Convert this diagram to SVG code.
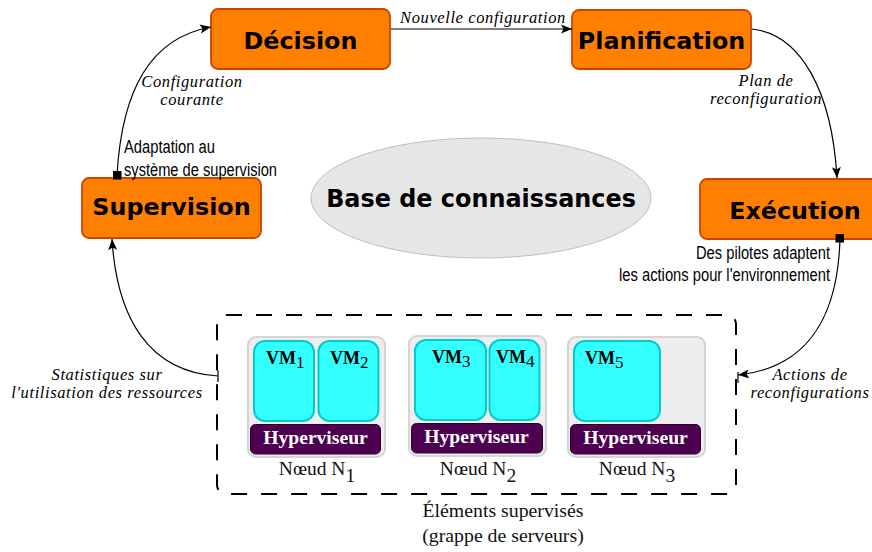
<svg xmlns="http://www.w3.org/2000/svg" width="872" height="552" viewBox="0 0 872 552">
<style>
.box{fill:#ff8000;stroke:#cc4400;stroke-width:1.8}
.bt{font:bold 23.8px "DejaVu Sans",sans-serif;fill:#000;text-anchor:middle}
.it{font:italic 16.5px "Liberation Serif",serif;fill:#000;text-anchor:middle;letter-spacing:.6px}
.sa{font:17.5px "Liberation Sans",sans-serif;fill:#000}
.node{fill:#eee;stroke:#d4d4d4;stroke-width:2}
.vm{fill:#33ffff;stroke:#00cccc;stroke-width:2}
.hy{fill:#4d0050;stroke:#2c002e;stroke-width:1}
.hyt{font:bold 19.6px "Liberation Serif",serif;fill:#fff;text-anchor:middle}
.vmt{font:bold 18px "Liberation Serif",serif;fill:#000}
.sub{font-weight:normal;font-size:17px}
.nt{font:19.5px "Liberation Serif",serif;fill:#111;text-anchor:middle}
.c{fill:none;stroke:#000;stroke-width:1.2}
</style>
<defs>
<marker id="a" markerWidth="12" markerHeight="10" refX="11" refY="5" orient="auto" markerUnits="userSpaceOnUse"><path d="M0 0.5L11 5L0 9.5L2.500 5Z" fill="#000"/></marker>
</defs>
<g id="cluster"><rect x="217" y="315" width="519" height="179" rx="9" fill="none" stroke="#000" stroke-width="2" stroke-dasharray="16 14"/></g>
<g id="decision"><rect class="box" x="211" y="9" width="179" height="60" rx="7"/><text class="bt" x="300.500" y="49">Décision</text></g>
<g id="planification"><rect class="box" x="572" y="10" width="179" height="59" rx="7"/><text class="bt" x="661.500" y="49">Planification</text></g>
<g id="supervision"><rect class="box" x="82" y="178" width="179" height="60" rx="7"/><text class="bt" x="171.500" y="214.500">Supervision</text></g>
<g id="execution"><rect class="box" x="700" y="179" width="179" height="60" rx="7"/><text class="bt" x="795" y="219">Exécution</text></g>
<g id="base"><ellipse cx="481" cy="198" rx="170" ry="60" fill="#e6e6e6" stroke="#bfbfbf" stroke-width="1"/><text x="481" y="207" font-family="DejaVu Sans,sans-serif" font-weight="bold" font-size="23.900" text-anchor="middle">Base de connaissances</text></g>
<g id="connectors">
<path class="c" marker-end="url(#a)" d="M117 175C122 90 150 38 211 27"/>
<path class="c" marker-end="url(#a)" d="M391 29L572 29"/>
<path class="c" marker-end="url(#a)" d="M752 29C800 34 832 90 837 178"/>
<path class="c" marker-end="url(#a)" d="M840 238C838 320 805 368 738 375"/>
<path class="c" marker-end="url(#a)" d="M218 376C150 372 117 320 112 239"/>
<path class="c" d="M218 370V382" stroke-width="1.400"/>
<path class="c" d="M738 372V383" stroke-width="1.600"/>
<rect x="113" y="171" width="8.500" height="8.500" fill="#000"/>
<rect x="835.500" y="234" width="8.500" height="8.500" fill="#000"/>
</g>
<g id="labels">
<text class="it" x="192" y="87">Configuration</text><text class="it" x="192" y="105">courante</text>
<text class="it" x="483" y="23">Nouvelle configuration</text>
<text class="it" x="766" y="86">Plan de</text><text class="it" x="766" y="104">reconfiguration</text>
<text class="it" x="107" y="380">Statistiques sur</text><text class="it" x="107" y="398">l'utilisation des ressources</text>
<text class="it" x="810" y="380">Actions de</text><text class="it" x="810" y="398">reconfigurations</text>
<text class="sa" x="124" y="153" textLength="91" lengthAdjust="spacingAndGlyphs">Adaptation au</text>
<text class="sa" x="124" y="176" textLength="153" lengthAdjust="spacingAndGlyphs">système de supervision</text>
<text class="sa" x="696" y="259" textLength="134" lengthAdjust="spacingAndGlyphs">Des pilotes adaptent</text>
<text class="sa" x="619" y="281" textLength="211" lengthAdjust="spacingAndGlyphs">les actions pour l'environnement</text>
<text x="503" y="517" font-family="Liberation Serif,serif" font-size="19.800" text-anchor="middle" fill="#111">Éléments supervisés</text>
<text x="503" y="542" font-family="Liberation Serif,serif" font-size="19.800" text-anchor="middle" fill="#111">(grappe de serveurs)</text>
</g>
<g id="noeud1">
<rect class="node" x="248" y="337" width="137" height="120" rx="8"/>
<rect class="vm" x="254" y="341" width="60" height="80" rx="11"/>
<rect class="vm" x="318.500" y="341" width="60" height="80" rx="11"/>
<rect class="hy" x="250.500" y="424.500" width="130" height="29.500" rx="5"/>
<text class="hyt" x="315.500" y="444">Hyperviseur</text>
<text class="vmt" x="266" y="364">VM<tspan class="sub" dy="4">1</tspan></text>
<text class="vmt" x="330" y="364">VM<tspan class="sub" dy="4">2</tspan></text>
<text class="nt" x="317" y="475">Nœud N<tspan dy="7">1</tspan></text>
</g>
<g id="noeud2">
<rect class="node" x="409" y="336" width="137" height="120" rx="8"/>
<rect class="vm" x="415" y="340" width="71" height="80" rx="11"/>
<rect class="vm" x="489.500" y="340" width="50" height="80" rx="11"/>
<rect class="hy" x="411.500" y="423.500" width="131" height="29.500" rx="5"/>
<text class="hyt" x="476.500" y="443">Hyperviseur</text>
<text class="vmt" x="432" y="363">VM<tspan class="sub" dy="4">3</tspan></text>
<text class="vmt" x="496" y="363">VM<tspan class="sub" dy="4">4</tspan></text>
<text class="nt" x="478" y="475">Nœud N<tspan dy="7">2</tspan></text>
</g>
<g id="noeud3">
<rect class="node" x="568" y="337" width="137" height="120" rx="8"/>
<rect class="vm" x="574" y="341" width="86" height="80" rx="11"/>
<rect class="hy" x="570.500" y="424.500" width="130" height="29.500" rx="5"/>
<text class="hyt" x="635.500" y="444">Hyperviseur</text>
<text class="vmt" x="585" y="364">VM<tspan class="sub" dy="4">5</tspan></text>
<text class="nt" x="637" y="475">Nœud N<tspan dy="7">3</tspan></text>
</g>
</svg>
